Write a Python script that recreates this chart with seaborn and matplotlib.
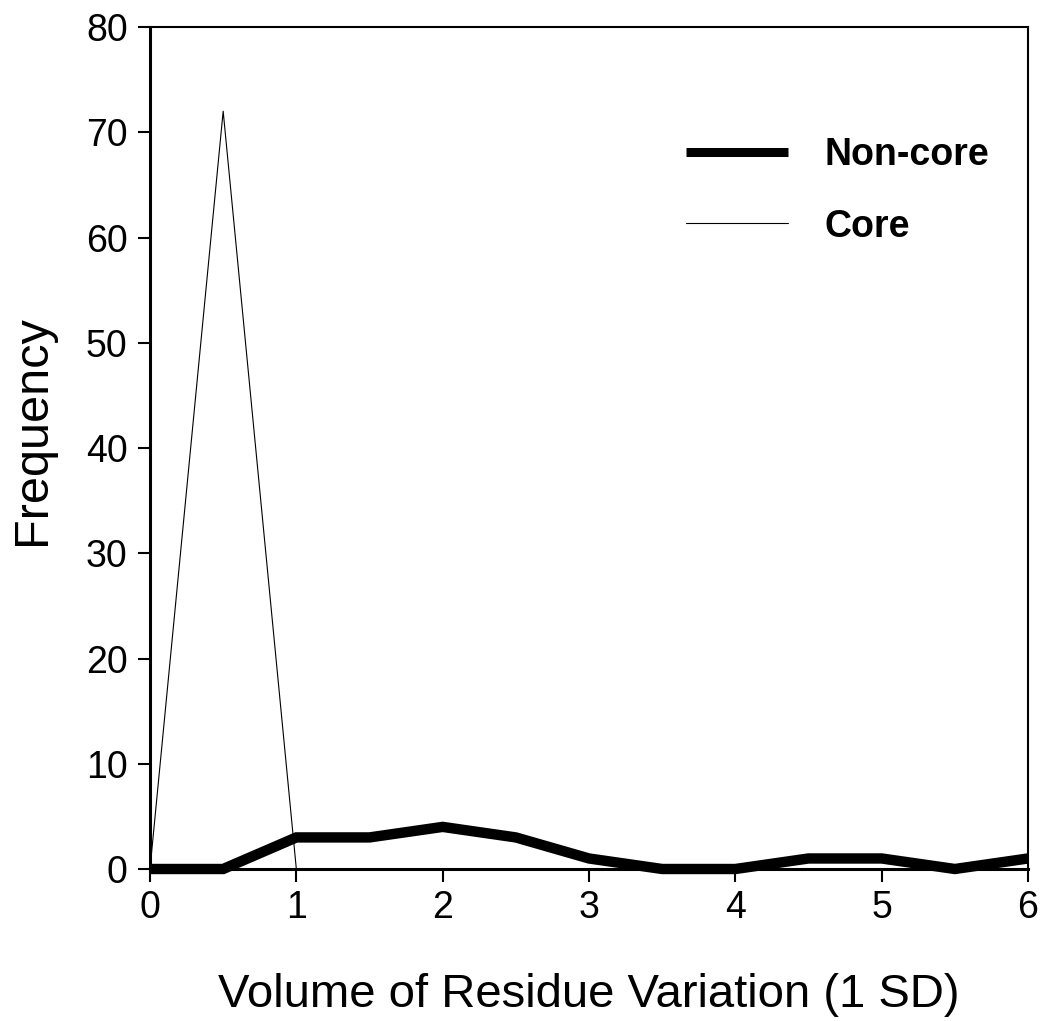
import matplotlib
matplotlib.use("Agg")
import matplotlib.pyplot as plt
import seaborn as sns
import pandas as pd

noncore_x = [0, 0.5, 1, 1.5, 2, 2.5, 3, 3.5, 4, 4.5, 5, 5.5, 6]
noncore_y = [0, 0, 3, 3, 4, 3, 1, 0, 0, 1, 1, 0, 1]
core_x = [0, 0.5, 1]
core_y = [0, 72, 0]
x_ticks = [0, 1, 2, 3, 4, 5, 6]
y_ticks = [0, 10, 20, 30, 40, 50, 60, 70, 80]

sns.set_theme(style="ticks")
plt.rcParams['font.family'] = ['Liberation Sans', 'DejaVu Sans']
plt.rcParams['text.color'] = 'black'
plt.rcParams['axes.labelcolor'] = 'black'

fig = plt.figure(figsize=(10.41, 10.21), dpi=100)
ax = fig.add_axes([150/1041, 1 - 869/1021, (1028-150)/1041, (869-27)/1021])

df_nc = pd.DataFrame({"x": noncore_x, "y": noncore_y})
df_c = pd.DataFrame({"x": core_x, "y": core_y})
sns.lineplot(data=df_nc, x="x", y="y", ax=ax, color="black", linewidth=7.5,
             label="Non-core", clip_on=False, solid_joinstyle="miter",
             solid_capstyle="butt")
sns.lineplot(data=df_c, x="x", y="y", ax=ax, color="black", linewidth=0.8,
             label="Core", clip_on=False)

ax.set_xlim(0, 6)
ax.set_ylim(0, 80)
ax.set_xticks(x_ticks)
ax.set_yticks(y_ticks)
ax.tick_params(axis="both", labelsize=27, length=9, width=1.5, direction="out",
               colors="black")
ax.tick_params(axis="x", pad=6)
ax.tick_params(axis="y", pad=7)
for s in ["left", "bottom"]:
    ax.spines[s].set_linewidth(2.2)
for s in ["top", "right"]:
    ax.spines[s].set_linewidth(1.5)
for s in ax.spines.values():
    s.set_color("black")
ax.set_xlabel("Volume of Residue Variation (1 SD)", fontsize=34)
ax.set_ylabel("Frequency", fontsize=35)
ax.xaxis.set_label_coords(0.5, -0.1235)
ax.yaxis.set_label_coords(-0.108, 0.5214)

leg = ax.legend(loc="upper left", bbox_to_anchor=(0.6105, 0.8694), frameon=False,
                prop={"size": 27, "weight": "bold"}, handlelength=2.72,
                handletextpad=0.98, labelspacing=0.95, borderaxespad=0, borderpad=0)
leg.get_lines()[0].set_linewidth(6.5)
leg.get_lines()[0].set_solid_capstyle("butt")
leg.get_lines()[1].set_linewidth(0.8)

fig.savefig("out.png", dpi=100, facecolor="white")
